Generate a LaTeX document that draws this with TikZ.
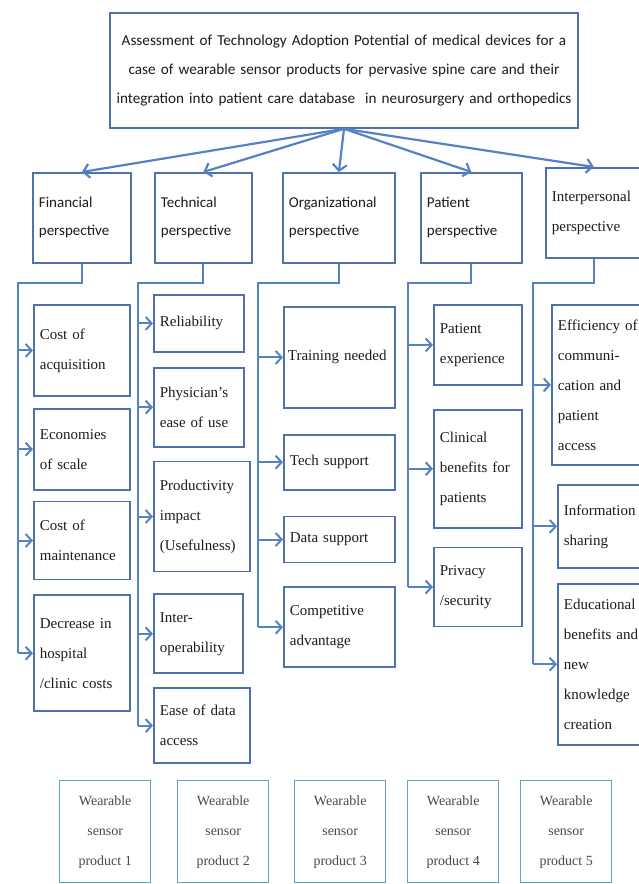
\documentclass[tikz,border=0pt]{standalone}
\usepackage{fontspec}
\setmainfont{Liberation Serif}
\newfontfamily\calib{Carlito}
\usepackage{tikz}
\usetikzlibrary{positioning, calc, arrows.meta}

\definecolor{boxblue}{RGB}{79,113,173}
\definecolor{lineblue}{RGB}{86,130,196}
\definecolor{prodteal}{RGB}{96,166,182}
\definecolor{textgray}{RGB}{28,28,28}

\begin{document}
\begin{tikzpicture}[x=1pt, y=1pt,
  every node/.style={draw=boxblue, line width=1.8pt, fill=white, text=textgray, anchor=north west, inner xsep=6pt, inner ysep=3pt},
  persp/.style={align=left, font=\calib\fontsize{15}{28}\selectfont},
  sub/.style={align=left, font=\fontsize{15}{30}\selectfont},
  product/.style={draw=prodteal, line width=1.4pt, align=center, text=textgray!80, minimum width=91pt, minimum height=102pt, font=\fontsize{14}{30}\selectfont},
  toparrow/.style={draw=lineblue, line width=2.2pt, -{Straight Barb[length=6pt, width=14pt]}},
  bus/.style={draw=lineblue, line width=2pt},
  arrow/.style={draw=lineblue, line width=2pt, -{Straight Barb[length=6pt, width=13pt]}}]

  \useasboundingbox (0,0) rectangle (639,-884);
  \clip (0,0) rectangle (639,-884);

  % goal
  \node[anchor=north, align=center, text width=456pt, minimum height=115pt, font=\calib\fontsize{15.2}{29}\selectfont] (title) at (344,-12)
    {Assessment of Technology Adoption Potential of medical devices for a\\
     case of wearable sensor products for pervasive spine care and their\\
     integration into patient care database \ in neurosurgery and orthopedics};

  % perspectives
  \node[persp, text width=86pt, minimum height=90pt] (fin) at (32,-172) {Financial\\perspective};
  \node[persp, text width=85pt, minimum height=90pt] (tech) at (154,-172) {Technical\\perspective};
  \node[persp, text width=100pt, minimum height=90pt] (org) at (282,-172) {Organizational\\perspective};
  \node[persp, text width=89pt, minimum height=90pt] (pat) at (420,-172) {Patient\\perspective};
  \node[sub, text width=84pt, minimum height=90pt] (inter) at (545,-167) {Interpersonal\\perspective};

  \foreach \p in {fin, tech, org, pat, inter}
    \draw[toparrow] (title.south) -- (\p.north);

  % financial
  \node[sub, text width=84pt, minimum height=91pt] (acq) at (33,-304) {Cost of\\acquisition};
  \node[sub, text width=84pt, minimum height=81pt, below=11pt of acq.south west, anchor=north west] (econ) {Economies\\of scale};
  \node[sub, text width=84pt, minimum height=78pt, below=10pt of econ.south west, anchor=north west] (maint) {Cost of\\maintenance};
  \node[sub, text width=84pt, minimum height=116pt, below=14pt of maint.south west, anchor=north west] (decr) {Decrease in\\hospital\\/clinic costs};

  % technical
  \node[sub, text width=78pt, minimum height=57pt] (rel) at (153,-294) {Reliability};
  \node[sub, text width=78pt, minimum height=79pt, below=14pt of rel.south west, anchor=north west] (phys) {Physician's\\ease of use};
  \node[sub, text width=84pt, minimum height=110pt, below=13pt of phys.south west, anchor=north west] (useful) {Productivity\\impact\\(Usefulness)};
  \node[sub, text width=77pt, minimum height=79pt, below=21pt of useful.south west, anchor=north west] (interop) {Inter-\\operability};
  \node[sub, text width=84pt, minimum height=75pt, below=13pt of interop.south west, anchor=north west] (ease) {Ease of data\\access};

  % organizational
  \node[sub, inner xsep=4pt, text width=103pt, minimum height=101pt] (train) at (283,-306) {Training needed\\[14pt]};
  \node[sub, text width=99pt, minimum height=55pt, below=25pt of train.south west, anchor=north west] (techsup) {Tech support};
  \node[sub, text width=99pt, minimum height=46pt, below=25pt of techsup.south west, anchor=north west] (datasup) {Data support};
  \node[sub, text width=99pt, minimum height=80pt, below=23pt of datasup.south west, anchor=north west] (comp) {Competitive\\advantage};

  % patient
  \node[sub, text width=76pt, minimum height=80pt] (pexp) at (433,-304) {Patient\\experience};
  \node[sub, text width=76pt, minimum height=118pt, below=23pt of pexp.south west, anchor=north west] (clin) {Clinical\\benefits for\\patients};
  \node[sub, text width=76pt, minimum height=79pt, below=18pt of clin.south west, anchor=north west] (priv) {Privacy\\/security\\[14pt]};

  % interpersonal
  \node[sub, text width=90pt, minimum height=160pt] (effic) at (551,-304) {Efficiency of\\communi-\\cation and\\patient\\access};
  \node[sub, text width=90pt, minimum height=83pt] (info) at (557,-484) {Information\\sharing};
  \node[sub, text width=90pt, minimum height=161pt, below=14pt of info.south west, anchor=north west] (educ) {Educational\\benefits and\\new\\knowledge\\creation};

  % buses
  \coordinate (finbus) at (18,-283);
  \coordinate (techbus) at (138,-283);
  \coordinate (orgbus) at (258,-283);
  \coordinate (patbus) at (408,-283);
  \coordinate (interbus) at (533,-283);

  \draw[bus] (fin.south) |- (finbus) -- (finbus |- decr.west);
  \draw[bus] (tech.south) |- (techbus) -- (techbus |- ease.west);
  \draw[bus] (org.south) |- (orgbus) -- (orgbus |- comp.west);
  \draw[bus] (pat.south) |- (patbus) -- (patbus |- priv.west);
  \draw[bus] (inter.south) |- (interbus) -- (interbus |- educ.west);

  \foreach \n in {acq, econ, maint, decr}
    \draw[arrow] (finbus |- \n.west) -- (\n.west);
  \foreach \n in {rel, phys, useful, interop, ease}
    \draw[arrow] (techbus |- \n.west) -- (\n.west);
  \foreach \n in {train, techsup, datasup, comp}
    \draw[arrow] (orgbus |- \n.west) -- (\n.west);
  \foreach \n in {pexp, clin, priv}
    \draw[arrow] (patbus |- \n.west) -- (\n.west);
  \foreach \n in {effic, info, educ}
    \draw[arrow] (interbus |- \n.west) -- (\n.west);

  % products
  \foreach \x [count=\i] in {59, 177, 294, 407, 520}
    \node[product] (wsp\i) at (\x,-780) {Wearable\\sensor\\product \i};
\end{tikzpicture}
\end{document}
